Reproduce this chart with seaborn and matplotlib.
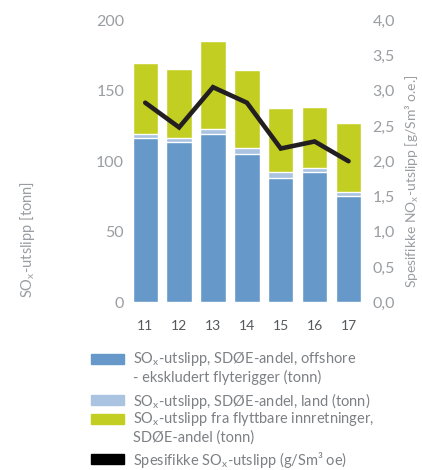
import numpy as np
import pandas as pd
import matplotlib
matplotlib.use('Agg')
import matplotlib.pyplot as plt
from matplotlib.patches import Rectangle
import seaborn as sns

# ─── DATA ──────────────────────────────────────────────────────────────────────
years     = ['11', '12', '13', '14', '15', '16', '17']
offshore  = [116.5, 113.5, 119.0, 105.0, 88.0, 92.0, 75.0]   # tonn
land      = [2.6, 3.0, 3.6, 4.4, 4.2, 3.1, 3.5]             # tonn
flyttbare = [50.4, 48.7, 62.4, 55.1, 45.2, 43.0, 48.3]      # tonn
spesifikk = [2.83, 2.48, 3.05, 2.83, 2.18, 2.28, 2.00]      # g/Sm3 oe

left_ticks  = [0, 50, 100, 150, 200]
right_ticks = [0.0, 0.5, 1.0, 1.5, 2.0, 2.5, 3.0, 3.5, 4.0]

legend_labels = [
    'SO$_\\mathregular{x}$-utslipp, SDØE-andel, offshore\n- ekskludert flyterigger (tonn)',
    'SO$_\\mathregular{x}$-utslipp, SDØE-andel, land (tonn)',
    'SO$_\\mathregular{x}$-utslipp fra flyttbare innretninger,\nSDØE-andel (tonn)',
    'Spesifikke SO$_\\mathregular{x}$-utslipp (g/Sm³ oe)',
]

# ─── STYLE ─────────────────────────────────────────────────────────────────────
BLUE  = '#6699c9'
LIGHT = '#a9c3e1'
GREEN = '#c2cf22'
BLACK = '#231f20'
GREY  = '#9a9da1'
TEXT  = '#7d8084'

sns.set_style('white')
plt.rcParams['font.family'] = ['Lato', 'DejaVu Sans']

df = pd.DataFrame({'year': years, 'offshore': offshore,
                   'land': land, 'flyttbare': flyttbare})
df['lvl2'] = df['offshore'] + df['land']
df['lvl3'] = df['lvl2'] + df['flyttbare']

fig = plt.figure(figsize=(4.22, 4.70), dpi=100)
ax = fig.add_axes([0.304, 0.357, 0.562, 0.600])

# stacked bars drawn as overlapping cumulative layers
for col, colr in [('lvl3', GREEN), ('lvl2', LIGHT), ('offshore', BLUE)]:
    sns.barplot(data=df, x='year', y=col, color=colr, width=0.75,
                saturation=1, ax=ax, order=years)

ax.set_ylim(0, 200)
ax.set_xlim(-0.5, len(years) - 0.5)
ax.set_yticks(left_ticks)
ax.set_xlabel('')
ax.set_ylabel('')
ax.tick_params(axis='y', length=0, pad=3, labelsize=11.5, labelcolor=GREY)
ax.tick_params(axis='x', length=0, pad=13, labelsize=10, labelcolor='#55585c')
sns.despine(ax=ax, left=True, bottom=True)

ax2 = ax.twinx()
sns.lineplot(x=np.arange(len(years)), y=spesifikk, color=BLACK, lw=3.3,
             ax=ax2, solid_capstyle='round', solid_joinstyle='miter')
ax2.set_ylim(0, 4)
ax2.set_yticks(right_ticks)
ax2.set_yticklabels([f'{v:.1f}'.replace('.', ',') for v in right_ticks])
ax2.tick_params(axis='y', length=0, pad=5, labelsize=11.5, labelcolor=GREY)
sns.despine(ax=ax2, left=True, bottom=True, right=True)
ax2.set_ylabel('')

fig.text(0.064, 0.49, 'SO$_\\mathregular{x}$-utslipp [tonn]', rotation=90,
         ha='center', va='center', fontsize=10.5, color=GREY)
fig.text(0.978, 0.615, 'Spesifikke NO$_\\mathregular{x}$-utslipp [g/Sm³ o.e.]',
         rotation=90, ha='center', va='center', fontsize=10, color=GREY)

# legend, drawn by hand below the plot
handle_cols = [BLUE, LIGHT, GREEN, 'black']
rows_y = [359, 400, 419, 459]  # first-line centres, px from top
W, H = 422, 470
for lab, colr, yy in zip(legend_labels, handle_cols, rows_y):
    fig.patches.append(Rectangle((91 / W, 1 - (yy + 5) / H), 33 / W, 10 / H,
                                 transform=fig.transFigure, color=colr))
    fig.text(133 / W, 1 - (yy - 9) / H, lab, ha='left', va='top',
             fontsize=10.5, color=TEXT, linespacing=1.2)

plt.savefig('out.png', dpi=100)
